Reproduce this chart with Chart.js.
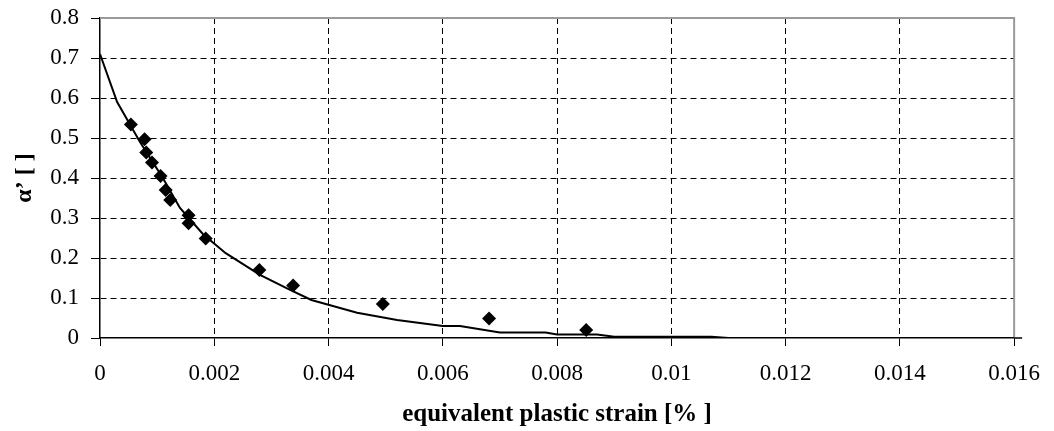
<!DOCTYPE html>
<html>
<head>
<meta charset="utf-8">
<title>alpha' vs equivalent plastic strain</title>
<script src="https://cdn.jsdelivr.net/npm/chart.js@4/dist/chart.umd.min.js"></script>
<style>
    html, body { margin: 0; padding: 0; background: #fff; }
    #wrap { width: 1054px; height: 431px; }
</style>
</head>
<body>
<div id="wrap"><canvas id="alphaChart" width="1054" height="431"></canvas></div>
<script>
// Measured points (diamonds)
const markerStrain = [0.00054, 0.00078, 0.00081, 0.00091, 0.00106, 0.00115, 0.00123, 0.00155, 0.00155, 0.00185, 0.00279, 0.00338, 0.00495, 0.00681, 0.00851];
const markerAlpha  = [0.534, 0.497, 0.464, 0.439, 0.405, 0.370, 0.345, 0.307, 0.287, 0.249, 0.170, 0.131, 0.085, 0.049, 0.020];

// Fitted curve (solid line)
const lineStrain = [0, 0.0003, 0.0007, 0.0011, 0.0014, 0.0018, 0.0022, 0.0028, 0.0033, 0.0037, 0.0045, 0.0052, 0.0060, 0.0063, 0.0070, 0.0078, 0.0080, 0.0087, 0.0090, 0.0107, 0.0110, 0.0160];
const lineAlpha  = [0.71, 0.59, 0.49, 0.40, 0.325, 0.26, 0.212, 0.158, 0.122, 0.095, 0.063, 0.045, 0.030, 0.030, 0.014, 0.014, 0.009, 0.009, 0.003, 0.003, 0, 0];

// Axis settings
const xMin = 0, xMax = 0.016, xStep = 0.002;
const yMin = 0, yMax = 0.8, yStep = 0.1;
const xTitle = 'equivalent plastic strain [% ]';
const yTitle = 'α’ [ ]';

const serif = "'Liberation Serif', 'Times New Roman', 'DejaVu Serif', serif";

const toPoints = (xs, ys) => xs.map((x, i) => ({ x: x, y: ys[i] }));
const fmt = v => String(parseFloat(Number(v).toFixed(4)));

// gray frame on top/right of the plot, like the Excel plot area
const framePlugin = {
    id: 'frame',
    beforeDatasetsDraw(chart) {
        const { ctx, chartArea: a } = chart;
        ctx.save();
        ctx.strokeStyle = '#9a9a9a';
        ctx.lineWidth = 2;
        ctx.beginPath();
        ctx.moveTo(a.left, a.top);
        ctx.lineTo(a.right, a.top);
        ctx.lineTo(a.right, a.bottom);
        ctx.stroke();
        // axis line runs a little past the plot on the right
        ctx.strokeStyle = '#000';
        ctx.lineWidth = 1.5;
        ctx.beginPath();
        ctx.moveTo(a.right, a.bottom);
        ctx.lineTo(a.right + 8, a.bottom);
        ctx.stroke();
        ctx.restore();
    }
};

const ctx = document.getElementById('alphaChart').getContext('2d');

new Chart(ctx, {
    type: 'scatter',
    data: {
        datasets: [
            {
                label: 'measured',
                data: toPoints(markerStrain, markerAlpha),
                showLine: false,
                pointStyle: 'rectRot',
                pointRadius: 7,
                pointHoverRadius: 7,
                backgroundColor: '#000',
                borderColor: '#000',
                borderWidth: 0
            },
            {
                label: 'fit',
                data: toPoints(lineStrain, lineAlpha),
                showLine: true,
                pointRadius: 0,
                borderColor: '#000',
                borderWidth: 2,
                tension: 0,
                fill: false
            }
        ]
    },
    options: {
        responsive: false,
        animation: false,
        layout: { padding: { top: 18, right: 31, left: 0, bottom: 0 } },
        plugins: {
            legend: { display: false },
            tooltip: { enabled: false }
        },
        scales: {
            x: {
                type: 'linear',
                min: xMin,
                max: xMax,
                afterFit: scale => { scale.height = 93; },
                ticks: {
                    stepSize: xStep,
                    autoSkip: false,
                    maxRotation: 0,
                    padding: 14,
                    color: '#000',
                    font: { family: serif, size: 23 },
                    callback: v => fmt(v)
                },
                grid: {
                    color: c => (c.tick && (c.tick.value <= xMin + 1e-9 || c.tick.value >= xMax - 1e-9)) ? 'rgba(0,0,0,0)' : '#000',
                    lineWidth: 1,
                    tickColor: '#000',
                    tickLength: 8,
                    tickBorderDash: []
                },
                border: { display: true, color: '#000', width: 1.5, dash: [6, 4] },
                title: {
                    display: true,
                    text: xTitle,
                    color: '#000',
                    font: { family: serif, size: 25, weight: 'bold' },
                    padding: { top: 0, bottom: 1 }
                }
            },
            y: {
                type: 'linear',
                min: yMin,
                max: yMax,
                afterFit: scale => {
                    scale.width = 100;
                    scale.paddingTop = 0;
                    scale.paddingBottom = 0;
                },
                ticks: {
                    stepSize: yStep,
                    padding: 12,
                    color: '#000',
                    font: { family: serif, size: 23 },
                    callback: v => fmt(v)
                },
                grid: {
                    color: c => (c.tick && (c.tick.value <= yMin + 1e-9 || c.tick.value >= yMax - 1e-9)) ? 'rgba(0,0,0,0)' : '#000',
                    lineWidth: 1,
                    tickColor: '#000',
                    tickLength: 9,
                    tickBorderDash: []
                },
                border: { display: true, color: '#000', width: 1.5, dash: [6, 4] },
                title: {
                    display: true,
                    text: yTitle,
                    color: '#000',
                    font: { family: serif, size: 24, weight: 'bold' },
                    padding: { top: 10, bottom: 0 }
                }
            }
        }
    },
    plugins: [framePlugin]
});
</script>
</body>
</html>
